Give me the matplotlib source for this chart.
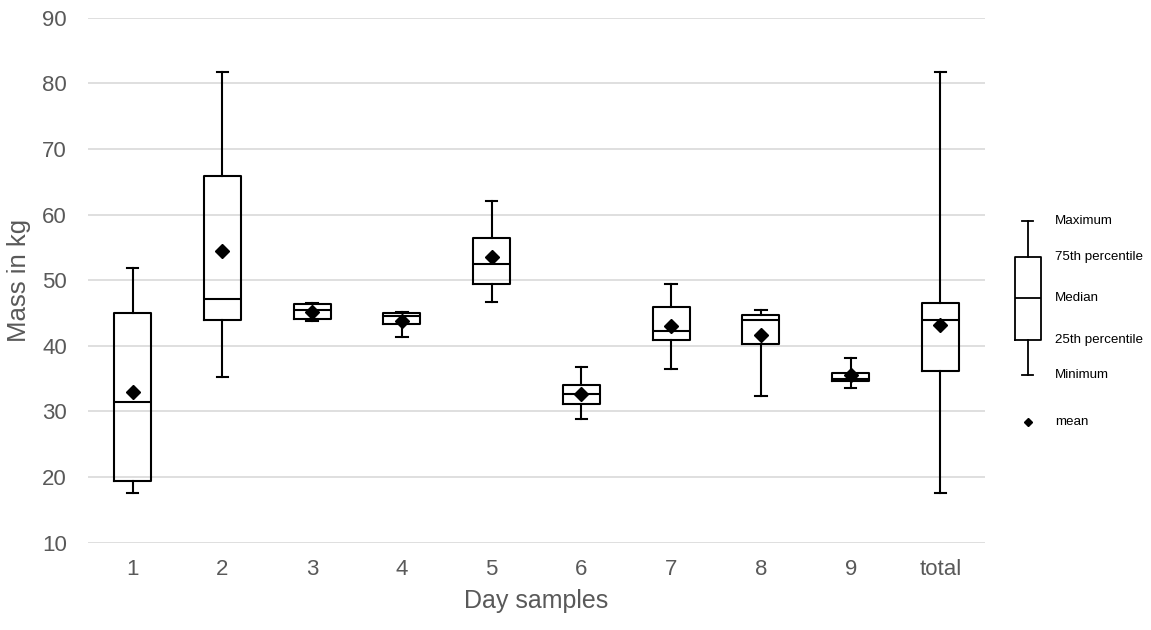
import matplotlib.pyplot as plt

plt.rcParams["font.family"] = ["Liberation Sans", "DejaVu Sans"]

# box plot statistics per day (kg)
labels = ["1", "2", "3", "4", "5", "6", "7", "8", "9", "total"]
mins = [17.6, 35.3, 43.8, 41.4, 46.7, 28.8, 36.5, 32.4, 33.5, 17.6]
q1s = [19.4, 43.9, 44.1, 43.3, 49.4, 31.2, 40.9, 40.3, 34.6, 36.1]
medians = [31.5, 47.1, 45.5, 44.5, 52.4, 32.7, 42.3, 43.9, 34.9, 43.9]
q3s = [45.0, 65.9, 46.3, 45.0, 56.5, 34.1, 45.9, 44.7, 35.8, 46.5]
maxs = [51.8, 81.7, 46.5, 45.1, 62.0, 36.8, 49.4, 45.5, 38.2, 81.7]
means = [33.0, 54.4, 45.2, 43.8, 53.5, 32.7, 43.0, 41.7, 35.6, 43.2]

key_labels = ["Maximum", "75th percentile", "Median", "25th percentile", "Minimum"]

W, H = 1151, 630
GREY = "#595959"

fig = plt.figure(figsize=(W / 100, H / 100), dpi=100)
ax = fig.add_axes([87.7 / W, 1 - 542.7 / H, (985.3 - 87.7) / W, 525 / H])

stats = []
for i, lab in enumerate(labels):
    stats.append({
        "label": lab,
        "whislo": mins[i],
        "q1": q1s[i],
        "med": medians[i],
        "q3": q3s[i],
        "whishi": maxs[i],
        "mean": means[i],
    })

line = dict(color="black", linewidth=1.5)
ax.bxp(
    stats,
    positions=range(1, len(labels) + 1),
    widths=0.41,
    capwidths=0.13,
    showmeans=True,
    showfliers=False,
    boxprops=line,
    whiskerprops=line,
    capprops=line,
    medianprops=line,
    meanprops=dict(marker="D", markerfacecolor="black", markeredgecolor="black", markersize=7),
)

ax.set_xlim(0.5, len(labels) + 0.5)
ax.set_ylim(10, 90)
ax.set_yticks(range(10, 91, 10))
ax.grid(axis="y", color="#d9d9d9", linewidth=1.2)
ax.set_axisbelow(True)
for s in ax.spines.values():
    s.set_visible(False)
ax.tick_params(length=0, labelsize=16, labelcolor=GREY)
ax.tick_params(axis="y", pad=15)
ax.tick_params(axis="x", pad=12)
ax.set_xlabel("Day samples", fontsize=18, color=GREY, labelpad=6)
ax.set_ylabel("Mass in kg", fontsize=18.5, color=GREY, labelpad=8)

# key on the right, drawn in pixel units of its own small axes
lax = fig.add_axes([990 / W, 1 - 440 / H, 161 / W, 240 / H])
lax.set_xlim(990, 1151)
lax.set_ylim(440, 200)
lax.axis("off")
key_y = [221.3, 256.7, 297.7, 340.0, 375.0]
lax.bxp(
    [{"whishi": key_y[0], "q3": key_y[1], "med": key_y[2], "q1": key_y[3], "whislo": key_y[4]}],
    positions=[1027.7],
    widths=26,
    capwidths=11,
    showfliers=False,
    boxprops=dict(color="black", linewidth=1.3),
    whiskerprops=dict(color="black", linewidth=1.3),
    capprops=dict(color="black", linewidth=1.3),
    medianprops=dict(color="black", linewidth=1.3),
    manage_ticks=False,
)
lax.plot([1027.7], [421.7], marker="D", color="black", markersize=4.5, linestyle="none")
for y, t in zip(key_y, key_labels):
    lax.text(1055, y, t, fontsize=9.6, va="center", ha="left", color="black")
lax.text(1055, 421.7, "mean", fontsize=9.6, va="center", ha="left", color="black")

fig.savefig("out.png", dpi=100)
